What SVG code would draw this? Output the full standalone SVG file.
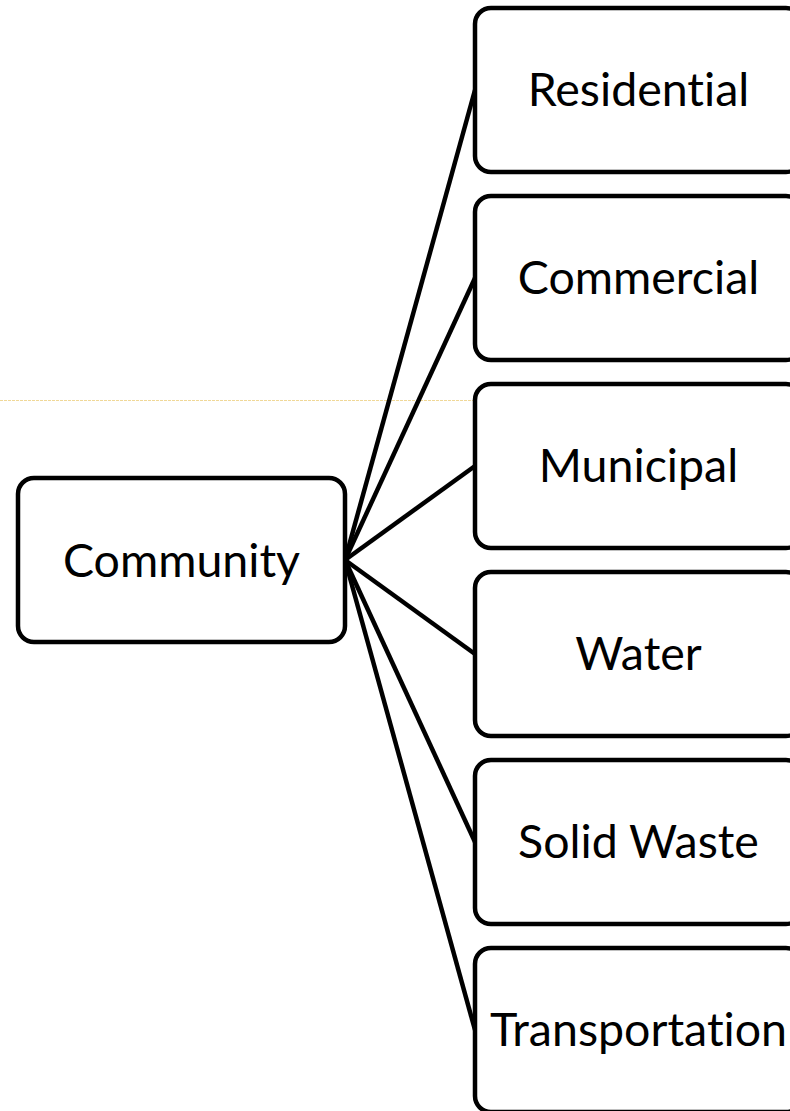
<svg xmlns="http://www.w3.org/2000/svg" width="790" height="1111" viewBox="0 0 790 1111">
<style>
.box{fill:#fff;stroke:#000;stroke-width:4.5}
.lbl{font-family:Lato,"Open Sans",sans-serif;font-size:46.5px;fill:#000;text-anchor:middle;font-variant-ligatures:none}
.conn{stroke:#000;stroke-width:4.5;fill:none}
</style>
<rect width="790" height="1111" fill="#fff"/>
<line x1="0" y1="400.5" x2="474" y2="400.5" stroke="#f0d898" stroke-width="1" stroke-dasharray="3,1"/>
<g id="connectors">
<line class="conn" x1="345" y1="560" x2="475" y2="90"/>
<line class="conn" x1="345" y1="560" x2="475" y2="278"/>
<line class="conn" x1="345" y1="560" x2="475" y2="466"/>
<line class="conn" x1="345" y1="560" x2="475" y2="654"/>
<line class="conn" x1="345" y1="560" x2="475" y2="842"/>
<line class="conn" x1="345" y1="560" x2="475" y2="1030"/>
</g>
<g id="community"><rect class="box" x="18" y="478" width="327" height="164" rx="16"/><text class="lbl" x="181.5" y="577">Community</text></g>
<g id="residential"><rect class="box" x="475" y="8" width="327" height="164" rx="16"/><text class="lbl" x="638.5" y="106">Residential</text></g>
<g id="commercial"><rect class="box" x="475" y="196" width="327" height="164" rx="16"/><text class="lbl" x="638.5" y="294">Commercial</text></g>
<g id="municipal"><rect class="box" x="475" y="384" width="327" height="164" rx="16"/><text class="lbl" x="638.5" y="482">Municipal</text></g>
<g id="water"><rect class="box" x="475" y="572" width="327" height="164" rx="16"/><text class="lbl" x="638.5" y="670">Water</text></g>
<g id="solidwaste"><rect class="box" x="475" y="760" width="327" height="164" rx="16"/><text class="lbl" x="638.5" y="858">Solid Waste</text></g>
<g id="transportation"><rect class="box" x="475" y="948" width="327" height="164" rx="16"/><text class="lbl" x="638.5" y="1046">Transportation</text></g>
</svg>
